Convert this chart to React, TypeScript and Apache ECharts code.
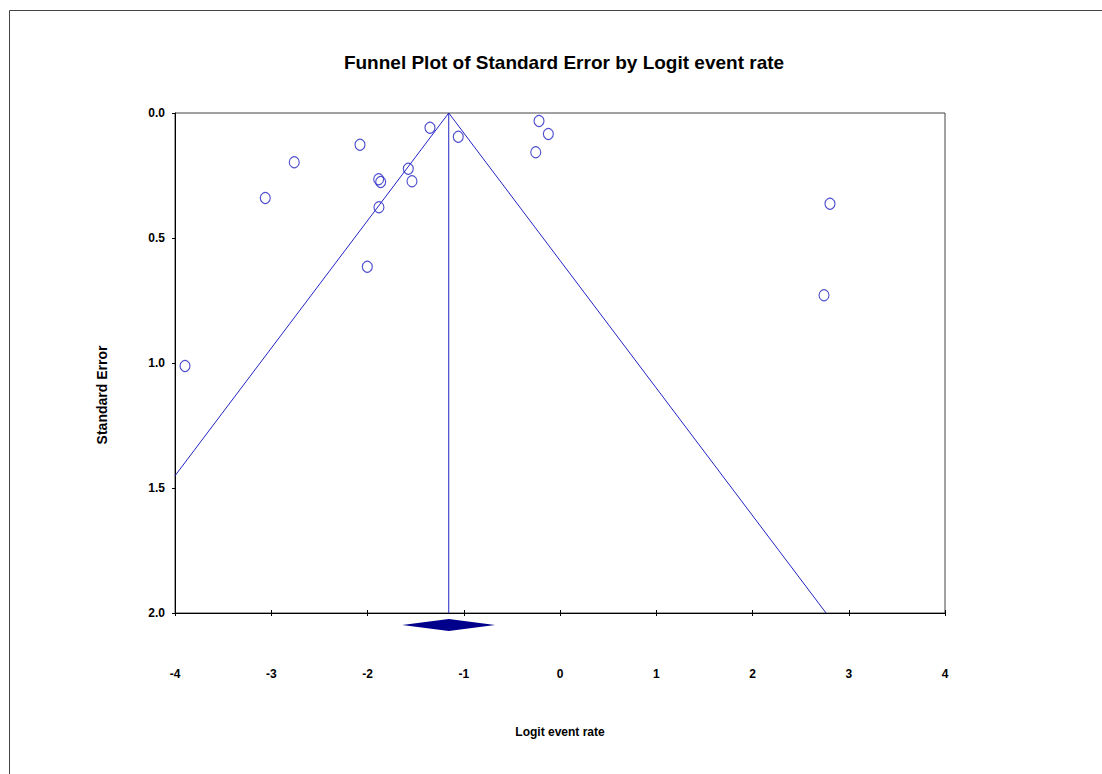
import React, { useEffect, useRef } from "react";
import * as echarts from "echarts";

const titleText = "Funnel Plot of Standard Error by Logit event rate";
const xAxisName = "Logit event rate";
const yAxisName = "Standard Error";

const studyLogit = [-3.896, -3.062, -2.761, -2.078, -2.002, -1.884, -1.863, -1.881, -1.576, -1.538, -1.351, -1.057, -0.218, -0.121, -0.252, 2.805, 2.743];
const studySE = [1.012, 0.34, 0.197, 0.127, 0.615, 0.265, 0.276, 0.377, 0.223, 0.273, 0.059, 0.095, 0.032, 0.084, 0.157, 0.363, 0.729];

const pooledEstimate = -1.156;
const pooledCI = [-1.64, -0.675];
const funnelLeft = [[-1.156, 0], [-4, 1.451]];
const funnelRight = [[-1.156, 0], [2.764, 2]];
const centerLine = [[-1.156, 0], [-1.156, 2]];

const FONT = '"Liberation Sans", Arial, sans-serif';
const BLUE = "#2424c4";

export default function App() {
  const ref = useRef<HTMLDivElement>(null);
  useEffect(() => {
    if (!ref.current) return;
    const chart = echarts.init(ref.current, null, { renderer: "svg" });
    const points = studyLogit.map((x, i) => [x, studySE[i]]);
    chart.setOption({
      animation: false,
      backgroundColor: "#fff",
      grid: {
        left: 175,
        top: 113,
        width: 770,
        height: 500,
        show: true,
        borderColor: "#444",
        borderWidth: 1,
        backgroundColor: "transparent",
      },
      xAxis: [
        {
          type: "value",
          min: -4,
          max: 4,
          interval: 1,
          position: "bottom",
          splitLine: { show: false },
          axisLine: { show: true, onZero: false, lineStyle: { color: "#000", width: 1 } },
          axisTick: { show: true, inside: false, length: 3, lineStyle: { color: "#000" } },
          axisLabel: { margin: 55, fontFamily: FONT, fontSize: 12, fontWeight: "bold", color: "#000" },
        },
        {
          type: "value",
          min: -4,
          max: 4,
          interval: 1,
          position: "top",
          offset: -500,
          splitLine: { show: false },
          axisLine: { show: false },
          axisTick: { show: true, inside: false, length: 3, lineStyle: { color: "#000" } },
          axisLabel: { show: false },
        },
      ],
      yAxis: {
        type: "value",
        min: 0,
        max: 2,
        interval: 0.5,
        inverse: true,
        splitLine: { show: false },
        axisLine: { show: true, onZero: false, lineStyle: { color: "#000", width: 1 } },
        axisTick: { show: true, length: 3, lineStyle: { color: "#000" } },
        axisLabel: {
          margin: 10,
          fontFamily: FONT,
          fontSize: 12,
          fontWeight: "bold",
          color: "#000",
          formatter: (v: number) => v.toFixed(1),
        },
      },
      graphic: [
        {
          type: "rect",
          shape: { x: 9.5, y: 10.5, width: 1100, height: 770 },
          style: { fill: "none", stroke: "#444", lineWidth: 1 },
          silent: true,
        },
        {
          type: "text",
          x: 564,
          y: 62,
          style: {
            text: titleText,
            font: `bold 19px ${FONT}`,
            fill: "#000",
            textAlign: "center",
            textVerticalAlign: "middle",
          },
        },
        {
          type: "text",
          x: 560,
          y: 732,
          style: {
            text: xAxisName,
            font: `bold 12px ${FONT}`,
            fill: "#000",
            textAlign: "center",
            textVerticalAlign: "middle",
          },
        },
        {
          type: "text",
          x: 102,
          y: 395,
          rotation: Math.PI / 2,
          style: {
            text: yAxisName,
            font: `bold 14px ${FONT}`,
            fill: "#000",
            textAlign: "center",
            textVerticalAlign: "middle",
          },
        },
      ],
      series: [
        {
          type: "line",
          data: funnelLeft,
          showSymbol: false,
          symbol: "none",
          lineStyle: { color: BLUE, width: 1 },
          silent: true,
        },
        {
          type: "line",
          data: funnelRight,
          showSymbol: false,
          symbol: "none",
          lineStyle: { color: BLUE, width: 1 },
          silent: true,
        },
        {
          type: "line",
          data: centerLine,
          showSymbol: false,
          symbol: "none",
          lineStyle: { color: BLUE, width: 1 },
          silent: true,
        },
        {
          type: "scatter",
          data: points,
          symbol: "circle",
          symbolSize: [10, 11],
          itemStyle: { color: "rgba(0,0,0,0)", borderColor: BLUE, borderWidth: 1.2 },
        },
        {
          type: "custom",
          clip: false,
          data: [[pooledEstimate, 2]],
          renderItem: (params: any, api: any) => {
            const c = api.coord([pooledEstimate, 2]);
            const l = api.coord([pooledCI[0], 2]);
            const r = api.coord([pooledCI[1], 2]);
            const y = c[1] + 12;
            return {
              type: "polygon",
              shape: {
                points: [
                  [l[0], y],
                  [c[0], y - 6],
                  [r[0], y],
                  [c[0], y + 6],
                ],
              },
              style: { fill: "#00008b", stroke: "none" },
            };
          },
        },
      ],
    });
    return () => chart.dispose();
  }, []);
  return (
    <div
      ref={ref}
      style={{ position: "absolute", left: 0, top: 0, width: 1102, height: 774 }}
    />
  );
}
